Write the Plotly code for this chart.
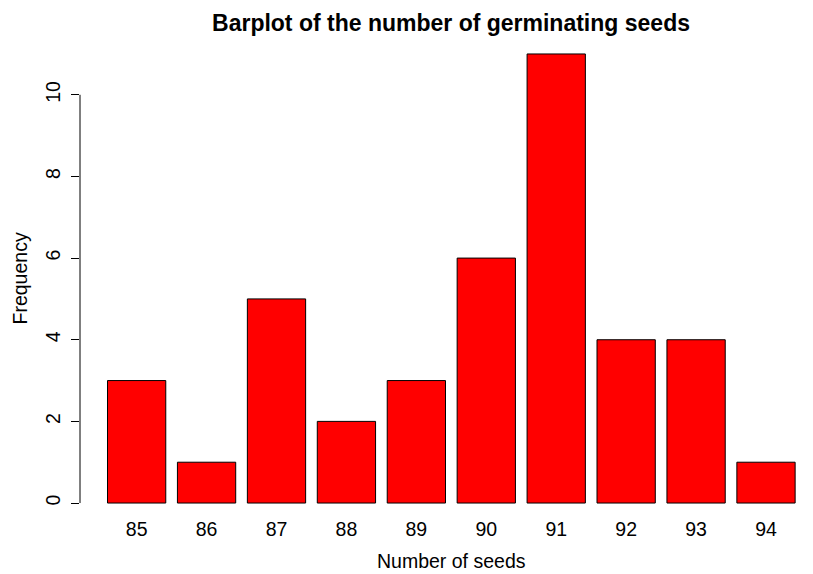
import plotly.graph_objects as go

# Number of germinating seeds and how often each count occurred
seeds = ['85', '86', '87', '88', '89', '90', '91', '92', '93', '94']
frequency = [3, 1, 5, 2, 3, 6, 11, 4, 4, 1]
y_ticks = [0, 2, 4, 6, 8, 10]

font = 'Liberation Sans, Arial, Helvetica, sans-serif'

# the page body has an 8px margin, so the layout is shifted up/left by 8px
fig = go.Figure()
fig.add_trace(go.Bar(
    x=seeds, y=frequency,
    marker=dict(color='#FF0000', line=dict(color='black', width=1)),
))

# R style axis line: only spans the first to the last tick
fig.add_shape(type='line', xref='paper', yref='y',
              x0=0, x1=0, y0=y_ticks[0], y1=y_ticks[-1],
              line=dict(color='black', width=1))

fig.update_layout(
    width=813, height=574,
    margin=dict(l=72, r=8, t=28, b=61),
    plot_bgcolor='white', paper_bgcolor='white',
    bargap=1/6,
    showlegend=False,
    font=dict(family=font, size=19.5, color='black'),
    title=dict(text='<b>Barplot of the number of germinating seeds</b>',
               font=dict(family=font, size=23, color='black'),
               xref='container', yref='container',
               x=443/813, xanchor='center', y=1 - 15/574, yanchor='middle'),
    xaxis=dict(range=[-0.81, 9.672], showline=False, showgrid=False,
               zeroline=False, ticks='', ticklabelstandoff=-6,
               tickfont=dict(size=19.5)),
    yaxis=dict(range=[-0.44, 11.44], tickvals=y_ticks, ticks='outside',
               ticklen=8, tickwidth=1, tickcolor='black', tickangle=-90,
               ticklabelstandoff=3,
               showline=False, showgrid=False, zeroline=False,
               tickfont=dict(size=19.5)),
    annotations=[
        dict(text='Number of seeds', xref='paper', yref='paper',
             x=(451 - 80) / 733, y=-(561 - 521.3) / 485,
             xanchor='center', yanchor='middle', showarrow=False,
             font=dict(size=19.5)),
        dict(text='Frequency', xref='paper', yref='paper',
             x=-(80 - 19) / 733, y=0.5, textangle=-90,
             xanchor='center', yanchor='middle', showarrow=False,
             font=dict(size=19.5)),
    ],
)

fig.write_html('out.html')
